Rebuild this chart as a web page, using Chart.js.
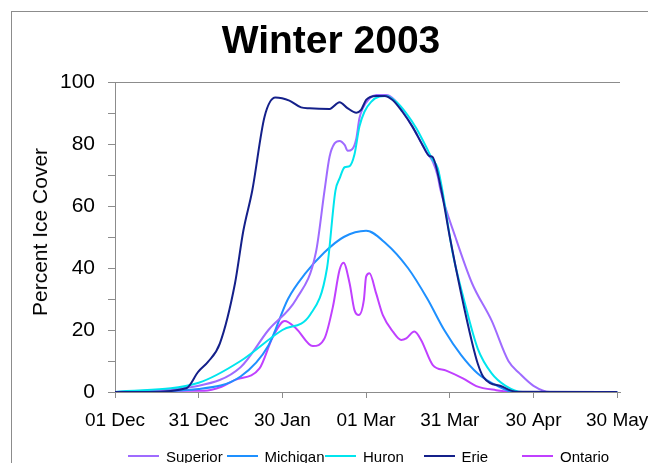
<!DOCTYPE html>
<html>
<head>
<meta charset="utf-8">
<script src="https://cdn.jsdelivr.net/npm/chart.js@4/dist/chart.umd.min.js"></script>
<style>
  html, body { margin: 0; padding: 0; background: #fff; }
  #wrap { position: relative; width: 648px; height: 463px; overflow: hidden; font-family: "Liberation Sans", Arial, sans-serif; }
  #frame { position: absolute; left: 11px; top: 11px; width: 700px; height: 520px; border-left: 1px solid #8c8c8c; border-top: 1px solid #8c8c8c; }
  #title { position: absolute; left: 11px; width: 640px; top: 18px; text-align: center; font-weight: bold; font-size: 39px; color: #000; }
  #ytitle { position: absolute; left: 40px; top: 232px; transform: translate(-50%, -50%) rotate(-90deg); white-space: nowrap; font-size: 21px; color: #000; }
  #legend { position: absolute; top: 447px; left: 128px; height: 18px; display: flex; }
  .item { width: 98.5px; display: flex; align-items: center; font-size: 15px; color: #000; }
  .item i { display: inline-block; width: 31px; height: 2px; margin-right: 7px; }
  canvas { position: absolute; left: 0; top: 0; }
</style>
</head>
<body>
<div id="wrap">
  <div id="frame"></div>
  <canvas id="c" width="648" height="463"></canvas>
  <div id="title">Winter 2003</div>
  <div id="ytitle">Percent Ice Cover</div>
  <div id="legend"></div>
</div>
<script>
// --- Data (days after 01 Dec 2002, percent ice cover)
const tickDays = [0, 30, 60, 90, 120, 150, 180];
const tickLabels = ["01 Dec", "31 Dec", "30 Jan", "01 Mar", "31 Mar", "30 Apr", "30 May"];
const lakeNames = ["Superior", "Michigan", "Huron", "Erie", "Ontario"];
const lakeColors = ["#9f6bff", "#1e90ff", "#00e5ee", "#14208a", "#c040ff"];

const superiorDays = [0, 30, 45, 55, 65, 72, 75.1, 76.9, 78.7, 80.5, 82.3, 83.4, 85, 86.5, 87.6, 88.8, 91.2, 93.6, 97.2, 100.2, 104.4, 108, 111.5, 113.9, 115.7, 116.6, 122, 128, 135, 141, 145, 150, 156, 180];
const superiorVals = [0, 2, 8, 20, 30, 45, 65, 75.9, 80.2, 81, 79.7, 77.8, 78.3, 81.8, 88.3, 91.5, 94.7, 95.8, 95.8, 94.2, 88.8, 83.4, 77.5, 74.3, 69.5, 65.4, 50, 35, 23, 10, 6, 2, 0, 0];

const michiganDays = [0, 30, 45, 55, 62, 68, 75, 82, 90, 97, 105, 112, 118, 124, 130, 137, 143, 180];
const michiganVals = [0, 1, 5, 15, 30, 38, 45, 50, 52, 48, 40, 30, 20, 12, 6, 2, 0, 0];

const huronDays = [0, 30, 45, 60, 70, 76, 79, 80.5, 82.3, 84.1, 85.8, 87.6, 89.4, 91.8, 94.8, 97.2, 100.8, 104.4, 108, 111.5, 113.9, 115.7, 117.3, 121, 125, 130, 135, 140, 146, 180];
const huronVals = [0, 3, 10, 20, 25, 40, 64.9, 68.9, 72.5, 72.9, 76.5, 85.6, 90.4, 93.6, 95.3, 95.5, 93.6, 89.9, 85.1, 79.1, 74.8, 72.2, 65.2, 45, 30, 14, 6, 2, 0, 0];

const erieDays = [0, 12, 25.6, 29.8, 33.4, 37.6, 43, 46, 49.2, 53.6, 57.5, 62.5, 66.7, 69.7, 76.9, 80.5, 83.3, 86.5, 88.2, 90, 93.6, 96.6, 99.5, 103, 106.6, 110.2, 112.7, 113.8, 116.9, 120, 124, 128, 130, 132, 138.9, 143.8, 180];
const erieVals = [0, 0, 1.2, 6.5, 9.8, 15.7, 35, 52, 65, 88.8, 95, 94, 91.8, 91.5, 91.3, 93.5, 91.6, 90.1, 91, 94.2, 95.5, 95.5, 94.2, 90.4, 85.6, 79.7, 76.1, 75.8, 65.4, 50, 32, 15.9, 9.2, 4.9, 1.7, 0.1, 0];

const ontarioDays = [0, 16.7, 32, 38.2, 43, 51.8, 56.6, 60.8, 64.9, 70.9, 75.1, 78.1, 80.5, 81.9, 84.1, 85.8, 87.4, 89.2, 90, 91.2, 93.6, 96, 99.6, 102.6, 104.4, 107.3, 109.7, 113.9, 118.7, 124.7, 129.5, 136.6, 143.8, 180];
const ontarioVals = [0, 0.4, 0.4, 1.7, 3.9, 7.6, 17.8, 22.9, 20.5, 14.8, 17.3, 27.5, 39.4, 41.7, 35, 26.5, 24.8, 29.7, 37.2, 38.3, 31.8, 24.8, 19.5, 16.8, 17.3, 19.5, 16.8, 8.7, 6.9, 4.4, 1.9, 0.6, 0, 0];

const seriesDays = [superiorDays, michiganDays, huronDays, erieDays, ontarioDays];
const seriesVals = [superiorVals, michiganVals, huronVals, erieVals, ontarioVals];
const drawOrder = [3, 4, 2, 1, 5]; // lower = drawn on top

const AXIS = "#8c8c8c";
const FONT = "'Liberation Sans', Arial, sans-serif";

const datasets = lakeNames.map((name, i) => ({
  label: name,
  data: seriesDays[i].map((d, k) => ({ x: d, y: seriesVals[i][k] })),
  borderColor: lakeColors[i],
  borderWidth: 2,
  pointRadius: 0,
  fill: false,
  cubicInterpolationMode: "monotone",
  order: drawOrder[i]
}));

new Chart(document.getElementById("c"), {
  type: "line",
  data: { datasets },
  options: {
    responsive: false,
    animation: false,
    devicePixelRatio: 1,
    layout: { padding: { left: 0, right: 28, top: 82, bottom: 0 } },
    plugins: { legend: { display: false }, title: { display: false }, tooltip: { enabled: false } },
    scales: {
      x: {
        type: "linear",
        min: 0,
        max: 181,
        afterBuildTicks: s => { s.ticks = tickDays.map(v => ({ value: v })); },
        afterFit: s => { s.height = 71; s.paddingLeft = 0; s.paddingRight = 0; },
        border: { color: AXIS, width: 1 },
        grid: { drawOnChartArea: false, tickLength: 6, color: AXIS },
        ticks: {
          autoSkip: false,
          maxRotation: 0,
          padding: 11,
          color: "#000",
          font: { family: FONT, size: 19 },
          callback: v => tickLabels[tickDays.indexOf(v)] ?? ""
        }
      },
      y: {
        min: 0,
        max: 100,
        afterBuildTicks: s => {
          const t = [];
          for (let v = 0; v <= 100; v += 10) t.push({ value: v });
          s.ticks = t;
        },
        afterFit: s => { s.width = 115; s.paddingTop = 0; s.paddingBottom = 0; },
        border: { color: AXIS, width: 1 },
        grid: {
          tickLength: 7,
          color: ctx => (ctx.tick && ctx.tick.value === 100 ? AXIS : "rgba(0,0,0,0)"),
          tickColor: AXIS
        },
        ticks: {
          padding: 13,
          color: "#000",
          font: { family: FONT, size: 21 },
          callback: v => (v % 20 === 0 ? String(v) : "")
        }
      }
    }
  }
});

// --- Legend (equal-width entries, line then label)
const elLegend = document.getElementById("legend");
lakeNames.forEach((name, i) => {
  const div = document.createElement("div");
  div.className = "item";
  const sw = document.createElement("i");
  sw.style.background = lakeColors[i];
  div.appendChild(sw);
  div.appendChild(document.createTextNode(name));
  elLegend.appendChild(div);
});
</script>
</body>
</html>
